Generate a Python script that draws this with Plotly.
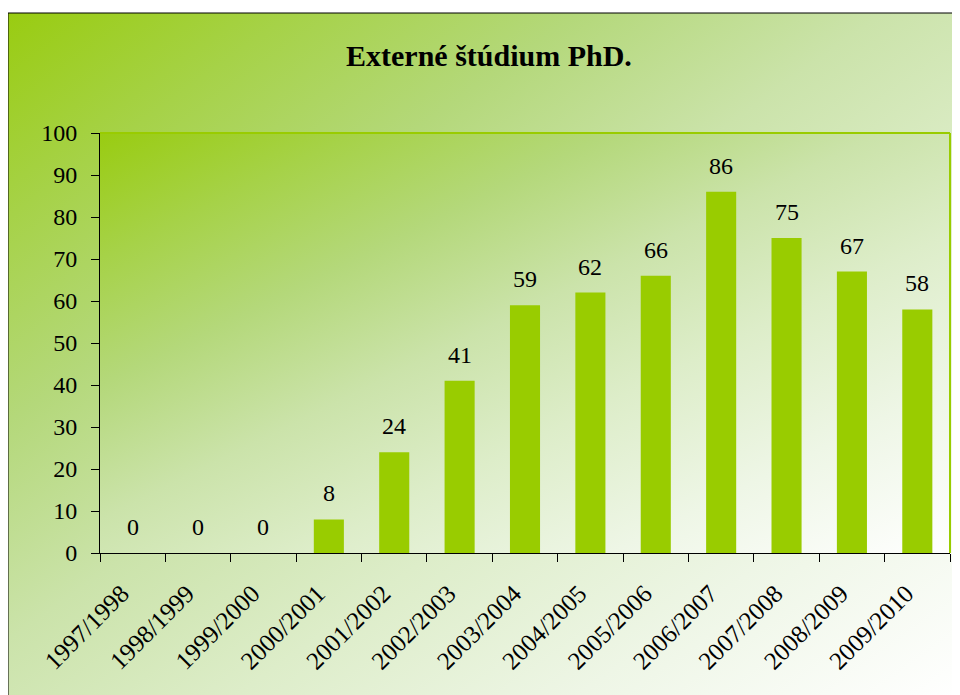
import base64
import plotly.graph_objects as go

categories = ["1997/1998", "1998/1999", "1999/2000", "2000/2001", "2001/2002",
              "2002/2003", "2003/2004", "2004/2005", "2005/2006", "2006/2007",
              "2007/2008", "2008/2009", "2009/2010"]
values = [0, 0, 0, 8, 24, 41, 59, 62, 66, 86, 75, 67, 58]
y_ticks = [0, 10, 20, 30, 40, 50, 60, 70, 80, 90, 100]
title_text = "Externé štúdium PhD."

# the page puts the figure at an 8px offset, so size it to fit the window
OFF = 8
W, H = 952, 687
L, T = 100 - OFF, 133 - OFF
pw, ph = 850, 420
R = W - L - pw
B = H - T - ph


def px_to_paper_x(px):
    # px in reference-screen coordinates
    return (px - OFF - L) / pw


def px_to_paper_y(py):
    return (T + ph - (py - OFF)) / ph


def gradient_svg():
    svg = (
        '<svg xmlns="http://www.w3.org/2000/svg" width="100" height="100" '
        'viewBox="0 0 100 100" preserveAspectRatio="none">'
        '<defs><linearGradient id="g" x1="0" y1="0" x2="1" y2="1">'
        '<stop offset="0" stop-color="#99cc11"/>'
        '<stop offset="0.15" stop-color="#a6d248"/>'
        '<stop offset="0.3" stop-color="#b4d87a"/>'
        '<stop offset="0.46" stop-color="#cbe3aa"/>'
        '<stop offset="0.62" stop-color="#ddedc9"/>'
        '<stop offset="0.8" stop-color="#eef6e6"/>'
        '<stop offset="1" stop-color="#ffffff"/>'
        '</linearGradient></defs>'
        '<rect x="0" y="0" width="100" height="100" fill="url(#g)"/></svg>'
    )
    return "data:image/svg+xml;base64," + base64.b64encode(svg.encode()).decode()


src = gradient_svg()
font = "Liberation Serif"

fig = go.Figure()
fig.add_trace(go.Bar(
    x=categories, y=values,
    marker=dict(color="#99cc00", line=dict(width=0)),
    hoverinfo="x+y",
))

annotations = [
    dict(x=c, y=v, xref="x", yref="y", text=str(v), showarrow=False,
         yanchor="bottom", yshift=11, font=dict(family=font, size=24, color="#000"))
    for c, v in zip(categories, values)
]
annotations.append(dict(
    x=px_to_paper_x(489), y=px_to_paper_y(55), xref="paper", yref="paper",
    text="<b>" + title_text + "</b>", showarrow=False,
    xanchor="center", yanchor="middle",
    font=dict(family=font, size=30, color="#000"),
))

x_left_outer = px_to_paper_x(8)
y_top_outer = px_to_paper_y(13)
x_right_outer = px_to_paper_x(OFF + W)
y_bottom_outer = px_to_paper_y(OFF + H)

images = [
    dict(source=src, xref="paper", yref="paper",
         x=x_left_outer, y=y_top_outer,
         sizex=x_right_outer - x_left_outer, sizey=y_top_outer - y_bottom_outer,
         xanchor="left", yanchor="top", sizing="stretch", layer="below"),
    dict(source=src, xref="paper", yref="paper",
         x=0, y=1, sizex=1, sizey=1,
         xanchor="left", yanchor="top", sizing="stretch", layer="below"),
]

shapes = [
    dict(type="rect", xref="paper", yref="paper",
         x0=x_left_outer, y0=px_to_paper_y(OFF + H + 20),
         x1=px_to_paper_x(OFF + W + 20), y1=y_top_outer,
         line=dict(color="#000000", width=1), layer="below"),
    dict(type="line", xref="paper", yref="paper", x0=0, x1=1, y0=1, y1=1,
         line=dict(color="#99cc00", width=2)),
    dict(type="line", xref="paper", yref="paper", x0=1, x1=1, y0=0, y1=1,
         line=dict(color="#99cc00", width=2)),
]

fig.update_layout(
    width=W, height=H,
    margin=dict(l=L, r=R, t=T, b=B, pad=0),
    paper_bgcolor="#ffffff",
    plot_bgcolor="rgba(0,0,0,0)",
    showlegend=False,
    bargap=0.54,
    annotations=annotations,
    images=images,
    shapes=shapes,
    font=dict(family=font, size=24, color="#000"),
)
fig.update_xaxes(
    type="category", tickangle=-45, tickson="boundaries",
    ticks="outside", ticklen=8, tickcolor="#000", tickwidth=1,
    showline=True, linecolor="#000", linewidth=1,
    showgrid=False, zeroline=False, ticklabelstandoff=15, ticklabelshift=-11,
    tickfont=dict(family=font, size=25, color="#000"),
)
fig.update_yaxes(
    range=[0, 100], tickvals=y_ticks,
    ticks="outside", ticklen=8, tickcolor="#000", tickwidth=1,
    showline=True, linecolor="#000", linewidth=1,
    showgrid=False, zeroline=False, ticklabelstandoff=9,
    tickfont=dict(family=font, size=24, color="#000"),
)

fig.write_html("out.html")
